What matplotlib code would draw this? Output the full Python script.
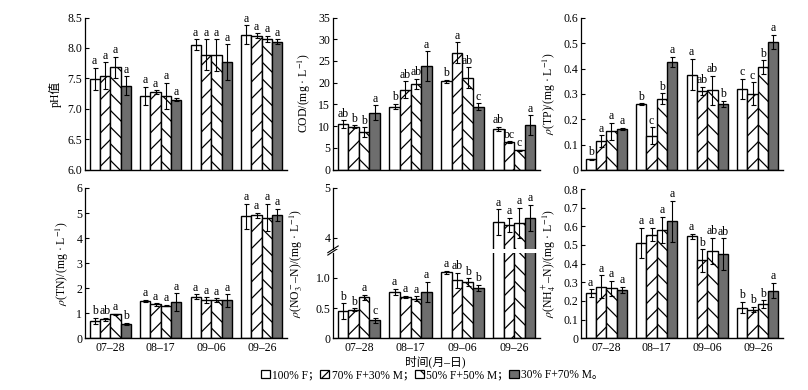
import numpy as np
import matplotlib
matplotlib.use('Agg')
import matplotlib.pyplot as plt
from matplotlib.patches import Patch

plt.rcParams['font.family'] = ['Liberation Serif', 'Noto Sans CJK SC']
plt.rcParams['mathtext.fontset'] = 'stix'
plt.rcParams['hatch.linewidth'] = 0.9
plt.rcParams['font.size'] = 8.5

# DATA (per treatment, 4 sampling dates)
dates = ['07–28', '08–17', '09–06', '09–26']
treatments = ['100% F；', '70% F+30% M；', '50% F+50% M；', '30% F+70% M。']

ph_mean = [[7.49, 7.21, 8.05, 8.22], [7.54, 7.27, 7.89, 8.20],
           [7.68, 7.21, 7.88, 8.15], [7.38, 7.15, 7.77, 8.10]]
ph_err = [[0.18, 0.15, 0.09, 0.15], [0.22, 0.03, 0.25, 0.04],
          [0.17, 0.22, 0.26, 0.05], [0.15, 0.02, 0.29, 0.04]]
ph_sig = [['a', 'a', 'a', 'a'], ['a', 'a', 'a', 'a'],
          ['a', 'a', 'a', 'a'], ['a', 'a', 'a', 'a']]

cod_mean = [[10.4, 14.5, 20.3, 9.3], [9.9, 18.4, 26.9, 6.3],
            [8.6, 19.7, 21.1, 4.4], [13.1, 23.8, 14.4, 10.2]]
cod_err = [[0.9, 0.6, 0.4, 0.5], [0.3, 1.9, 2.4, 0.2],
           [1.1, 1.2, 2.4, 0.2], [1.7, 3.4, 0.8, 2.3]]
cod_sig = [['ab', 'b', 'b', 'ab'], ['b', 'ab', 'a', 'bc'],
           ['b', 'ab', 'ab', 'c'], ['a', 'a', 'c', 'a']]

tp_mean = [[0.042, 0.260, 0.376, 0.319], [0.113, 0.135, 0.313, 0.301],
           [0.152, 0.281, 0.315, 0.405], [0.161, 0.426, 0.260, 0.505]]
tp_err = [[0.003, 0.003, 0.062, 0.040], [0.024, 0.033, 0.015, 0.045],
          [0.033, 0.022, 0.058, 0.028], [0.005, 0.020, 0.012, 0.029]]
tp_sig = [['b', 'b', 'a', 'c'], ['a', 'c', 'ab', 'c'],
          ['a', 'b', 'ab', 'b'], ['a', 'a', 'b', 'a']]

tn_mean = [[0.69, 1.49, 1.65, 4.87], [0.76, 1.35, 1.51, 4.91],
           [0.96, 1.30, 1.51, 4.82], [0.57, 1.45, 1.51, 4.94]]
tn_err = [[0.12, 0.05, 0.10, 0.50], [0.05, 0.05, 0.12, 0.10],
          [0.03, 0.03, 0.08, 0.55], [0.05, 0.35, 0.25, 0.24]]
tn_sig = [['b', 'a', 'a', 'a'], ['ab', 'a', 'a', 'a'],
          ['a', 'a', 'a', 'a'], ['b', 'a', 'a', 'a']]

no3_mean = [[0.45, 0.765, 1.09, 4.31], [0.475, 0.68, 0.96, 4.26],
            [0.68, 0.655, 0.93, 4.30], [0.30, 0.77, 0.84, 4.40]]
no3_err = [[0.13, 0.05, 0.03, 0.26], [0.02, 0.02, 0.12, 0.14],
           [0.04, 0.04, 0.06, 0.30], [0.04, 0.17, 0.05, 0.26]]
no3_sig = [['b', 'a', 'a', 'a'], ['b', 'a', 'ab', 'a'],
           ['a', 'a', 'b', 'a'], ['c', 'a', 'b', 'a']]

nh4_mean = [[0.242, 0.510, 0.546, 0.165], [0.277, 0.555, 0.417, 0.154],
            [0.268, 0.580, 0.469, 0.183], [0.260, 0.626, 0.451, 0.256]]
nh4_err = [[0.020, 0.080, 0.015, 0.030], [0.060, 0.035, 0.060, 0.015],
           [0.040, 0.070, 0.070, 0.020], [0.015, 0.110, 0.085, 0.040]]
nh4_sig = [['a', 'a', 'a', 'b'], ['a', 'a', 'b', 'b'],
           ['a', 'a', 'ab', 'b'], ['a', 'a', 'ab', 'a']]

faces = ['white', 'white', 'white', '#6e6e6e']
hatches = ['', '//', '\\\\', '']
w = 0.205


def _style(ax, bottom_labels):
    for s in ['top', 'right']:
        ax.spines[s].set_visible(False)
    ax.spines['left'].set_linewidth(0.9)
    ax.spines['bottom'].set_linewidth(1.0)
    ax.tick_params(axis='y', direction='in', length=3, width=0.8, pad=2)
    ax.tick_params(axis='x', length=0, pad=3)
    ax.set_xlim(-0.5, 3.5)
    ax.set_xticks(np.arange(4))
    if bottom_labels:
        ax.set_xticklabels(dates)
    else:
        ax.set_xticklabels([])


def _bars(ax, means, errs, sigs, label_sel=None):
    x = np.arange(len(dates))
    for i in range(4):
        xi = x + (i - 1.5) * w
        ax.bar(xi, means[i], w, color=faces[i], edgecolor='black',
               hatch=hatches[i], lw=1.0, zorder=2)
        ax.errorbar(xi, means[i], yerr=errs[i], fmt='none', ecolor='black',
                    elinewidth=0.8, capsize=1.8, capthick=0.8, zorder=3)
        for j in range(4):
            if label_sel is not None and not label_sel(means[i][j]):
                continue
            ax.annotate(sigs[i][j], (xi[j], means[i][j] + errs[i][j]),
                        xytext=(0, 0.5), textcoords='offset points',
                        ha='center', va='bottom', fontsize=8.5)


fig = plt.figure(figsize=(8.08, 3.90), dpi=100)
W, H = 808.0, 390.0


def _ax(left, top, right, bottom):
    return fig.add_axes([left / W, 1 - bottom / H, (right - left) / W, (bottom - top) / H])


ulab = r'/(mg · L$^{-1}$)'

# pH
ax = _ax(85, 17.5, 287, 169.5)
_bars(ax, ph_mean, ph_err, ph_sig)
_style(ax, False)
ax.set_ylim(6.0, 8.5)
ax.set_yticks(np.arange(6.0, 8.51, 0.5))
ax.set_yticklabels(['6.0', '6.5', '7.0', '7.5', '8.0', '8.5'])
ax.set_ylabel('pH值')

# COD
ax = _ax(333, 17.5, 540, 169.5)
_bars(ax, cod_mean, cod_err, cod_sig)
_style(ax, False)
ax.set_ylim(0, 35)
ax.set_yticks(np.arange(0, 36, 5))
ax.set_ylabel('COD' + ulab)

# TP
ax = _ax(581, 18, 783, 170)
_bars(ax, tp_mean, tp_err, tp_sig)
_style(ax, False)
ax.set_ylim(0, 0.6)
ax.set_yticks(np.arange(0, 0.61, 0.1))
ax.set_yticklabels(['0', '0.1', '0.2', '0.3', '0.4', '0.5', '0.6'])
ax.set_ylabel(r'$\rho$(TP)' + ulab)

# TN
ax = _ax(85, 188, 287, 338.3)
_bars(ax, tn_mean, tn_err, tn_sig)
_style(ax, True)
ax.set_ylim(0, 6)
ax.set_yticks(np.arange(0, 7, 1))
ax.set_ylabel(r'$\rho$(TN)' + ulab)

# NO3 (broken y axis)
ax_lo = _ax(333, 252.5, 540, 338.3)
ax_hi = _ax(333, 188, 540, 249)
_bars(ax_lo, no3_mean, no3_err, no3_sig, label_sel=lambda v: v < 2)
_bars(ax_hi, no3_mean, no3_err, no3_sig, label_sel=lambda v: v > 2)
_style(ax_lo, True)
_style(ax_hi, False)
ax_hi.spines['bottom'].set_visible(False)
ax_lo.set_ylim(0, 1.42)
ax_lo.set_yticks([0, 0.5, 1.0])
ax_lo.set_yticklabels(['0', '0.5', '1.0'])
ax_hi.set_ylim(3.77, 5)
ax_hi.set_yticks([4, 5])
ax_lo.set_ylabel(r'$\rho$(NO$_3^-$–N)' + ulab)
ax_lo.yaxis.set_label_coords(-0.135, 0.87)
kw = dict(color='black', lw=0.8, clip_on=False)
ax_lo.plot([-0.025, 0.025], [0.97, 1.05], transform=ax_lo.transAxes, **kw)
ax_hi.plot([-0.025, 0.025], [-0.06, 0.05], transform=ax_hi.transAxes, **kw)

# NH4
ax = _ax(581, 189, 783, 338.3)
_bars(ax, nh4_mean, nh4_err, nh4_sig)
_style(ax, True)
ax.set_ylim(0, 0.8)
ax.set_yticks(np.arange(0, 0.81, 0.1))
ax.set_yticklabels(['0', '0.1', '0.2', '0.3', '0.4', '0.5', '0.6', '0.7', '0.8'])
ax.set_ylabel(r'$\rho$(NH$_4^+$–N)' + ulab)

fig.text(435 / W, 1 - 362 / H, '时间(月–日)', ha='center', va='center', fontsize=8.5)

handles = [Patch(facecolor=faces[i], edgecolor='black', hatch=hatches[i], lw=0.9)
           for i in range(4)]
fig.legend(handles, treatments, loc='center', ncol=4, frameon=False,
           bbox_to_anchor=(432 / W, 1 - 375 / H), handlelength=0.8,
           handleheight=0.8, handletextpad=0.2, columnspacing=0.05,
           fontsize=8.3, borderpad=0)

fig.savefig('out.png', dpi=100)
